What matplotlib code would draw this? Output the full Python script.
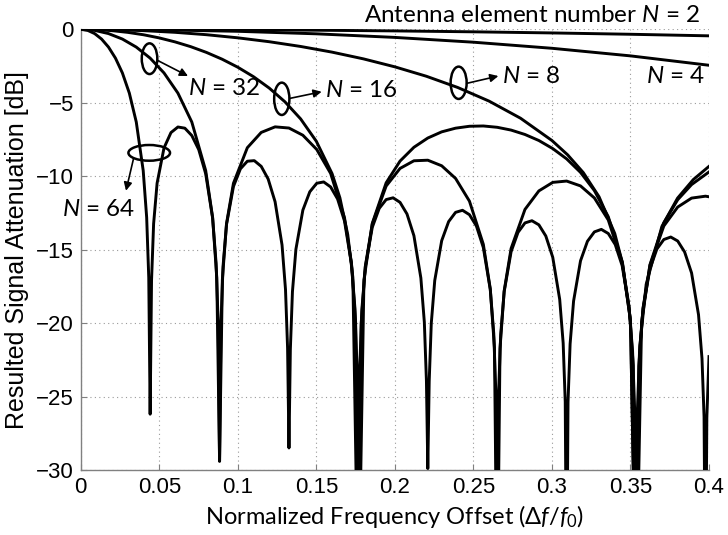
import matplotlib
matplotlib.use('Agg')
import matplotlib.pyplot as plt
from matplotlib.patches import Ellipse

# values (dB vs normalized offset)
x64 = [0, .00442, .00884, .01326, .01768, .02210, .02652, .03094, .03536, .03977, .04198, .04331, .04419,
       .04508, .04640, .04861, .05303, .05745, .06187, .06629, .07071, .07513, .07955, .08397, .08618, .08751, .08839,
       .08927, .09060, .09281, .09723, .10165, .10607, .11049, .11491, .11932, .12374, .12816, .13037, .13170, .13258,
       .13346, .13479, .13700, .14142, .14584, .15026, .15468, .15910, .16352, .16793, .17235, .17456, .17589, .17678,
       .17766, .17899, .18120, .18562, .19004, .19445, .19887, .20329, .20771, .21213, .21655, .21876, .22009, .22097,
       .22186, .22318, .22539, .22981, .23423, .23865, .24307, .24749, .25191, .25633, .26075, .26296, .26428, .26517,
       .26605, .26738, .26959, .27400, .27842, .28284, .28726, .29168, .29610, .30052, .30494, .30715, .30847, .30936,
       .31024, .31157, .31378, .31820, .32261, .32703, .33145, .33587, .34029, .34471, .34913, .35134, .35267, .35355,
       .35444, .35576, .35797, .36239, .36681, .37123, .37565, .38007, .38449, .38891, .39333, .39554, .39686, .39775,
       .39863, .40]
db64 = [0, -.072, -.290, -.663, -1.210, -1.961, -2.971, -4.343, -6.310, -9.614, -12.81, -16.91, -26.2,
        -17.08, -13.24, -10.48, -8.07, -7.03, -6.65, -6.73, -7.23, -8.19, -9.83, -12.85, -15.92, -19.95, -29.4,
        -20.04, -16.14, -13.29, -10.70, -9.50, -8.98, -8.94, -9.33, -10.19, -11.74, -14.68, -17.71, -21.72, -28.5,
        -21.78, -17.86, -14.97, -12.31, -11.06, -10.48, -10.39, -10.73, -11.55, -13.05, -15.96, -18.97, -22.96, -40,
        -23.01, -19.07, -16.17, -13.48, -12.19, -11.59, -11.47, -11.78, -12.57, -14.05, -16.93, -19.93, -23.92, -29.9,
        -23.96, -20.02, -17.10, -14.39, -13.09, -12.46, -12.32, -12.62, -13.39, -14.86, -17.72, -20.71, -24.70, -40,
        -24.73, -20.78, -17.86, -15.14, -13.82, -13.18, -13.03, -13.31, -14.07, -15.52, -18.38, -21.36, -25.35, -40,
        -25.37, -21.42, -18.50, -15.76, -14.43, -13.79, -13.62, -13.90, -14.65, -16.09, -18.94, -21.92, -25.90, -40,
        -25.92, -21.97, -19.04, -16.30, -14.96, -14.31, -14.14, -14.41, -15.16, -16.59, -19.43, -22.41, -26.38, -40,
        -26.40, -22.28]

x32 = [0, .00884, .01768, .02652, .03536, .04419, .05303, .06187, .07071, .07955, .08397, .08662, .08839,
       .09016, .09281, .09723, .10607, .11490, .12374, .13258, .14142, .15026, .15910, .16794, .17235, .17501, .17678,
       .17855, .18120, .18562, .19445, .20329, .21213, .22097, .22981, .23865, .24749, .25633, .26075, .26340, .26517,
       .26694, .26959, .27400, .28284, .29168, .30052, .30936, .31820, .32703, .33587, .34471, .34913, .35178, .35355,
       .35532, .35797, .36239, .37123, .38007, .38891, .39775, .40]
db32 = [0, -.072, -.290, -.663, -1.210, -1.961, -2.971, -4.343, -6.310, -9.614, -12.81, -16.91, -29.4,
        -17.07, -13.23, -10.48, -8.06, -7.02, -6.64, -6.72, -7.21, -8.18, -9.81, -12.83, -15.90, -19.93, -40,
        -20.02, -16.12, -13.26, -10.67, -9.47, -8.95, -8.91, -9.29, -10.15, -11.70, -14.64, -17.67, -21.67, -40,
        -21.73, -17.81, -14.92, -12.26, -11.00, -10.42, -10.33, -10.66, -11.48, -12.98, -15.88, -18.89, -22.88, -40,
        -22.92, -18.99, -16.08, -13.39, -12.10, -11.49, -11.36, -11.40]

x16 = [0, .01, .02, .03, .04, .05, .06, .07, .08, .09, .10, .11, .12, .13, .14, .15, .16, .165, .17, .17325, .17678,
       .18031, .18562, .19445, .20329, .21213, .22097, .22981, .23865, .24749, .25633, .26517, .27400, .28284,
       .29168, .30052, .30936, .31820, .32704, .33588, .34472, .35002, .35355,
       .35709, .36239, .37123, .38007, .38891, .40]
db16 = [0, -.023, -.092, -.208, -.371, -.585, -.855, -1.180, -1.571, -2.034, -2.581, -3.226, -3.999, -4.934,
        -6.098, -7.622, -9.819, -11.47, -13.98, -16.88, -40,
        -17.05, -13.21, -10.45, -8.97, -8.03, -7.40, -6.98, -6.73, -6.60, -6.58, -6.67, -6.86, -7.16,
        -7.57, -8.12, -8.82, -9.74, -10.98, -12.76, -15.82, -19.85, -40,
        -19.93, -16.03, -13.17, -11.60, -10.57, -9.71]

x8 = [0, .02, .04, .06, .08, .10, .12, .14, .16, .18, .20, .22, .24, .26, .28, .30, .31, .32, .33, .34, .345, .35,
      .35355, .356, .36, .37, .38, .39, .40]
db8 = [0, -.023, -.090, -.204, -.366, -.579, -.844, -1.167, -1.553, -2.012, -2.555, -3.193, -3.959, -4.889,
       -6.052, -7.569, -8.545, -9.759, -11.40, -13.90, -15.95, -19.82, -40, -21.53, -17.36, -13.42, -11.49,
       -10.23, -9.33]

x4 = [0, .05, .10, .15, .20, .25, .30, .35, .40]
db4 = [0, -.034, -.135, -.306, -.551, -.877, -1.291, -1.808, -2.447]

x2 = [0, .05, .10, .15, .20, .25, .30, .35, .40]
db2 = [0, -.007, -.027, -.061, -.108, -.170, -.246, -.337, -.444]

xticks = [0, 0.05, 0.1, 0.15, 0.2, 0.25, 0.3, 0.35, 0.4]
xticklabels = ['0', '0.05', '0.1', '0.15', '0.2', '0.25', '0.3', '0.35', '0.4']
yticks = [-30, -25, -20, -15, -10, -5, 0]

plt.rcParams['mathtext.fontset'] = 'custom'
plt.rcParams['mathtext.rm'] = 'Lato'
plt.rcParams['mathtext.it'] = 'Lato:italic'

label_font = 'Lato'
tick_font = 'Liberation Sans'

fig = plt.figure(figsize=(7.28, 5.35), dpi=100)
ax = fig.add_axes([0.1109, 0.1215, 0.8630, 0.8237])

for xs, ys in [(x2, db2), (x4, db4), (x8, db8), (x16, db16), (x32, db32), (x64, db64)]:
    ax.plot(xs, ys, color='black', linewidth=2.1, solid_joinstyle='round', zorder=3)

ax.set_xlim(0, 0.4)
ax.set_ylim(-30, 0)
ax.set_xticks(xticks)
ax.set_xticklabels(xticklabels)
ax.set_yticks(yticks)
ax.grid(True, linestyle=(0, (1, 3)), color='#9a9a9a', linewidth=0.8)
ax.tick_params(direction='in', length=4, color='#808080', labelsize=16, pad=5)
for lab in ax.get_xticklabels() + ax.get_yticklabels():
    lab.set_family(tick_font)
for side in ['top', 'right']:
    ax.spines[side].set_visible(False)
for side in ['left', 'bottom']:
    ax.spines[side].set_color('#808080')
    ax.spines[side].set_linewidth(1.0)

ax.set_ylabel('Resulted Signal Attenuation [dB]', fontsize=18, family=tick_font, labelpad=5)
ax.set_xlabel(r'Normalized Frequency Offset ($\mathit{\Delta f/f_0}$)', fontsize=17,
              family=label_font, labelpad=4)

# ellipses marking the curves
ells = [((0.0438, -2.0), 0.0099, 2.09),
        ((0.128, -4.73), 0.0097, 2.2),
        ((0.2406, -3.64), 0.0102, 2.2),
        ((0.0436, -8.41), 0.0265, 1.07)]
for c, w, h in ells:
    ax.add_patch(Ellipse(c, w, h, fill=False, edgecolor='black', linewidth=1.8, zorder=4))

arrows = [((0.0486, -2.1), (0.0683, -3.18)),
          ((0.1332, -4.70), (0.1534, -4.25)),
          ((0.2457, -3.68), (0.2659, -3.18)),
          ((0.0335, -8.85), (0.0288, -10.99))]
for a, b in arrows:
    ax.annotate('', xy=b, xytext=a,
                arrowprops=dict(arrowstyle='-|>', color='black', lw=1.2, mutation_scale=12,
                                shrinkA=0, shrinkB=0), zorder=4)

tk = dict(fontsize=17.5, family=label_font, color='black', zorder=5)
ax.text(0.0683, -4.0, '$N$ = 32', ha='left', va='center', **tk)
ax.text(0.1555, -4.14, '$N$ = 16', ha='left', va='center', **tk)
ax.text(0.268, -3.22, '$N$ = 8', ha='left', va='center', **tk)
ax.text(0.3975, -3.22, '$N$ = 4', ha='right', va='center', **tk)
ax.text(-0.0121, -12.3, '$N$ = 64', ha='left', va='center', clip_on=False, **tk)
ax.text(0.3943, 0.5, 'Antenna element number $N$ = 2', ha='right', va='baseline',
        clip_on=False, **tk)

fig.savefig('out.png', dpi=100)
